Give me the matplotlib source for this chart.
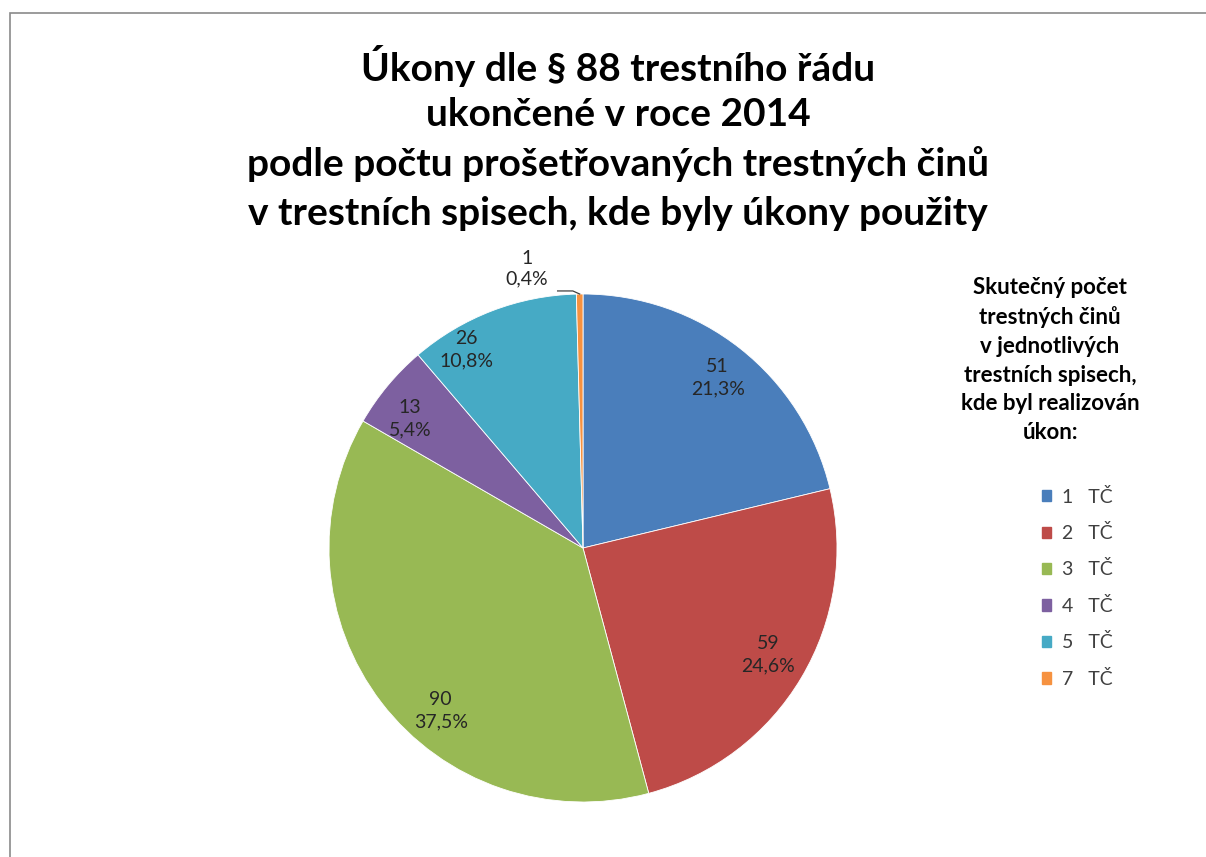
import numpy as np
import matplotlib.pyplot as plt
import matplotlib.patches as mpatches
from matplotlib.lines import Line2D

# data
categories = ["1   TČ", "2   TČ", "3   TČ", "4   TČ", "5   TČ", "7   TČ"]
counts = [51, 59, 90, 13, 26, 1]
percent_labels = ["21,3%", "24,6%", "37,5%", "5,4%", "10,8%", "0,4%"]
colors = ["#4A7EBB", "#BE4B48", "#98B954", "#7D60A0", "#46AAC5", "#F69240"]

title_lines = [
    "Úkony dle § 88 trestního řádu",
    "ukončené v roce 2014",
    "podle počtu prošetřovaných trestných činů",
    "v trestních spisech, kde byly úkony použity",
]
legend_title = ("Skutečný počet\ntrestných činů\nv jednotlivých\n"
                "trestních spisech,\nkde byl realizován\núkon:")

# label positions (fraction of radius, relative to pie centre)
label_pos = [(0.53, 0.67), (0.73, -0.42), (-0.56, -0.64),
             (-0.68, 0.51), (-0.46, 0.78), (-0.22, 1.10)]

plt.rcParams["font.family"] = ["Lato", "DejaVu Sans"]

W, H = 1206, 857
fig = plt.figure(figsize=(W / 100, H / 100), dpi=100)

# frame of the chart area (cut off at right and bottom)
fig.add_artist(mpatches.Rectangle((10 / W, -0.1), 2, (H - 13) / H + 0.1,
                                  transform=fig.transFigure, fill=False,
                                  ec="#8a8a8a", lw=1.2))

cx, cy, r = 583, 548, 254
ax = fig.add_axes([(cx - r) / W, (H - cy - r) / H, 2 * r / W, 2 * r / H])
wedges, _ = ax.pie(counts, colors=colors, startangle=90, counterclock=False,
                   radius=1.0, wedgeprops=dict(linewidth=0.6, edgecolor="white"))
ax.set_xlim(-1.0, 1.0)
ax.set_ylim(-1.0, 1.0)
ax.set_aspect("equal")

for i, (n, p) in enumerate(zip(counts, percent_labels)):
    x, y = label_pos[i]
    ls = 1.2 if i == len(counts) - 1 else 1.35
    ax.text(x, y, f"{n}\n{p}", ha="center", va="center", fontsize=14,
            color="#262626", linespacing=ls, clip_on=False)

# leader line for the small slice
w = wedges[-1]
mid = np.deg2rad((w.theta1 + w.theta2) / 2)
ax.add_line(Line2D([-0.10, -0.04, np.cos(mid)], [1.012, 1.012, np.sin(mid)],
                   color="#404040", lw=0.9, clip_on=False))

# title
for k, line in enumerate(title_lines):
    fig.text(618 / W, 1 - (66 + 49 * k) / H, line, ha="center", va="center",
             fontsize=28, fontweight="bold", color="black")

# legend title
fig.text(1050 / W, 1 - 360 / H, legend_title, ha="center", va="center",
         fontsize=16, fontweight="bold", color="black", linespacing=1.45)

handles = [mpatches.Patch(color=c) for c in colors]
leg = fig.legend(handles, categories, loc="upper left",
                 bbox_to_anchor=(1024 / W, 1 - 470 / H), frameon=False,
                 fontsize=14, handlelength=0.5, handleheight=0.5,
                 handletextpad=0.55, labelspacing=0.95)
for t in leg.get_texts():
    t.set_color("#404040")

fig.savefig("out.png", dpi=100)
